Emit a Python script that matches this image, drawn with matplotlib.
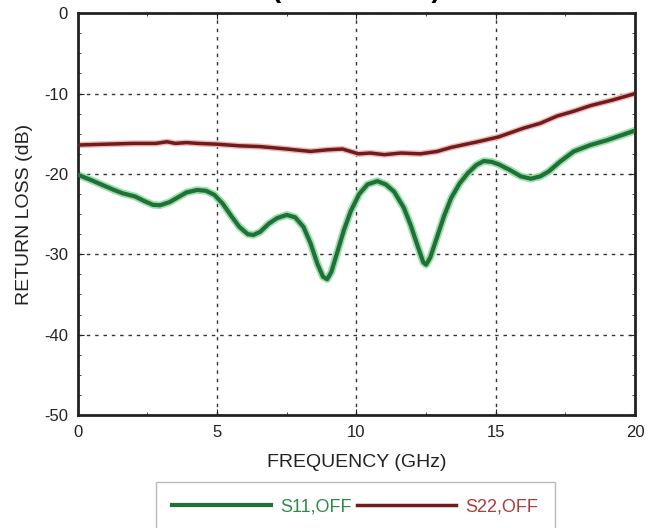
import matplotlib.pyplot as plt
from matplotlib.ticker import MultipleLocator

plt.rcParams['font.family'] = ['Liberation Sans', 'DejaVu Sans']
plt.rcParams['axes.unicode_minus'] = False

# S11 (green)
s11_freq = [0.0, 0.5, 0.9, 1.3, 1.6, 2.05, 2.4, 2.7, 2.95, 3.3, 3.6, 3.9, 4.28, 4.6,
            4.9, 5.2, 5.5, 5.8, 6.1, 6.3, 6.55, 6.85, 7.15, 7.5, 7.8, 8.1, 8.35, 8.6,
            8.8, 8.95, 9.1, 9.3, 9.55, 9.8, 10.1, 10.4, 10.75, 11.05, 11.35, 11.7,
            11.95, 12.2, 12.4, 12.5, 12.65, 12.9, 13.15, 13.4, 13.7, 14.0, 14.3,
            14.57, 14.85, 15.1, 15.5, 15.9, 16.26, 16.6, 16.9, 17.3, 17.8, 18.4,
            19.0, 19.5, 20.0]
s11_db = [-20.1, -20.8, -21.4, -22.0, -22.4, -22.8, -23.4, -23.85, -23.9, -23.5, -22.9,
          -22.3, -22.0, -22.1, -22.6, -23.7, -25.2, -26.6, -27.5, -27.6, -27.2, -26.2,
          -25.5, -25.1, -25.4, -26.6, -28.6, -31.2, -32.8, -33.1, -32.2, -29.9, -27.0,
          -24.6, -22.5, -21.3, -20.9, -21.3, -22.2, -24.2, -26.4, -29.0, -31.0, -31.3,
          -30.4, -27.8, -25.2, -23.0, -21.2, -19.9, -18.9, -18.4, -18.5, -18.8, -19.5,
          -20.3, -20.6, -20.3, -19.7, -18.5, -17.2, -16.4, -15.8, -15.2, -14.6]

# S22 (dark red)
s22_freq = [0.0, 1.0, 2.0, 2.8, 3.2, 3.5, 3.9, 4.3, 5.0, 5.8, 6.55, 7.5, 8.35, 8.95,
            9.5, 10.07, 10.5, 11.0, 11.6, 12.3, 12.9, 13.4, 14.35, 15.1, 16.0, 16.6,
            17.2, 17.8, 18.4, 19.2, 20.0]
s22_db = [-16.4, -16.3, -16.2, -16.2, -16.0, -16.2, -16.1, -16.2, -16.3, -16.5, -16.6,
          -16.9, -17.2, -17.0, -16.9, -17.5, -17.4, -17.6, -17.4, -17.5, -17.2, -16.7,
          -16.0, -15.4, -14.3, -13.7, -12.8, -12.2, -11.5, -10.8, -10.0]

fig = plt.figure(figsize=(6.54, 5.28), dpi=100)
ax = fig.add_axes([0.119, 0.214, 0.852, 0.761])

ax.plot(s11_freq, s11_db, color='#9be0a8', lw=5.5, solid_joinstyle='round', zorder=2)
l1, = ax.plot(s11_freq, s11_db, color='#21703a', lw=3, label='S11,OFF', zorder=3)
ax.plot(s22_freq, s22_db, color='#f2b8b8', lw=4.5, zorder=2)
l2, = ax.plot(s22_freq, s22_db, color='#6e1c1c', lw=2.5, label='S22,OFF', zorder=3)

ax.set_xlim(0, 20)
ax.set_ylim(-50, 0)
ax.xaxis.set_major_locator(MultipleLocator(5))
ax.xaxis.set_minor_locator(MultipleLocator(2.5))
ax.yaxis.set_major_locator(MultipleLocator(10))
ax.yaxis.set_minor_locator(MultipleLocator(2.5))
ax.tick_params(which='both', direction='in', top=True, right=True, labelsize=12,
               colors='#222222')
ax.tick_params(which='major', length=4, pad=7)
ax.tick_params(which='minor', length=2)
ax.grid(True, which='major', color='#333333', linestyle=(0, (2.5, 3.5)), lw=1)
for s in ax.spines.values():
    s.set_linewidth(2)
    s.set_color('#222222')

ax.set_xlabel('FREQUENCY (GHz)', fontsize=14, color='#222222', labelpad=10)
ax.set_ylabel('RETURN LOSS (dB)', fontsize=14, color='#222222', labelpad=8)

leg = fig.legend(handles=[l1, l2], loc='upper center', bbox_to_anchor=(0.543, 0.087),
                 ncol=2, fontsize=13, frameon=True, fancybox=False, handlelength=5.5,
                 columnspacing=0.3, handletextpad=0.5, borderpad=0.9,
                 borderaxespad=0.0)
leg.get_frame().set_edgecolor('#aaaaaa')
for t, c in zip(leg.get_texts(), ['#2f8a4a', '#b03a3a']):
    t.set_color(c)

# title of the original, cropped at the top edge
fig.text(0.545, 1.005, '(OFF STATE)', ha='center', va='baseline', fontsize=20,
         fontweight='bold')

fig.savefig('out.png', dpi=100)
